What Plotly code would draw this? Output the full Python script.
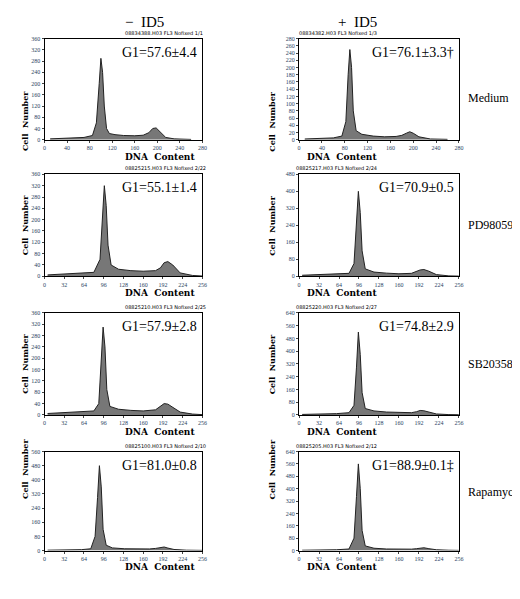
import plotly.graph_objects as go

# Panel data: (DNA content, cell number)
p1_x = [10,40,70,85,92,97,100,103,106,110,115,125,140,160,175,185,192,198,205,215,230,260]
p1_y = [3,5,8,15,60,200,290,240,120,40,22,18,15,14,16,25,40,42,28,8,3,1]
p2_x = [10,40,60,75,82,86,89,92,95,100,110,130,150,170,180,188,194,200,210,230,260]
p2_y = [2,3,5,10,50,180,250,200,80,25,15,10,8,9,12,18,22,18,8,2,1]
p3_x = [5,30,60,80,90,94,97,100,103,108,120,140,160,180,188,194,200,208,220,240,256]
p3_y = [5,8,10,14,60,220,320,250,110,40,25,20,18,20,30,48,52,40,12,3,1]
p4_x = [5,30,60,80,88,92,95,98,101,106,120,140,160,180,188,194,200,208,220,240,256]
p4_y = [5,8,10,14,60,260,400,300,120,35,20,15,12,14,22,30,32,24,8,2,1]
p5_x = [5,30,60,80,88,92,95,98,101,106,120,140,160,180,188,194,200,208,220,240,256]
p5_y = [5,8,10,14,40,200,310,240,90,30,20,16,14,18,30,40,38,28,10,3,1]
p6_x = [5,30,60,80,88,92,95,98,101,106,120,140,160,180,188,194,200,208,220,240,256]
p6_y = [3,5,8,14,60,300,520,380,140,40,25,18,14,14,20,28,26,18,6,2,1]
p7_x = [5,30,60,75,82,86,89,92,95,100,110,130,150,170,180,188,194,200,210,230,256]
p7_y = [2,3,5,10,80,300,480,360,120,30,15,10,8,9,12,18,20,14,6,2,1]
p8_x = [5,30,60,80,88,92,95,98,101,106,120,140,160,180,188,194,200,208,220,240,256]
p8_y = [2,3,5,10,80,350,560,400,130,30,15,10,8,9,12,16,18,12,5,2,1]

g1_labels = ["G1=57.6±4.4","G1=76.1±3.3†","G1=55.1±1.4","G1=70.9±0.5",
             "G1=57.9±2.8","G1=74.8±2.9","G1=81.0±0.8","G1=88.9±0.1‡"]
row_labels = ["Medium","PD98059","SB203580","Rapamycin"]
col_titles = ["−  ID5","+  ID5"]
headers = ["08834388.H03 FL3 Nofixed 1/1","08834382.H03 FL3 Nofixed 1/3",
           "08825215.H03 FL3 Nofixed 2/22","08825217.H03 FL3 Nofixed 2/24",
           "08825210.H03 FL3 Nofixed 2/25","08825220.H03 FL3 Nofixed 2/27",
           "08825100.H03 FL3 Nofixed 2/10","08825205.H03 FL3 Nofixed 2/12"]
y_max = [360,280,360,480,360,640,560,640]
y_dtick = [40,20,40,80,40,80,80,80]
x_max = [280,280,256,256,256,256,256,256]
x_dtick = [40,40,32,32,32,32,32,32]

data = [(p1_x,p1_y),(p2_x,p2_y),(p3_x,p3_y),(p4_x,p4_y),
        (p5_x,p5_y),(p6_x,p6_y),(p7_x,p7_y),(p8_x,p8_y)]

W, H = 520, 599
col_px = [(35,195),(293,455)]
row_px = [(28,130),(165,268),(305,408),(445,545)]

fig = go.Figure()
font = "Liberation Serif"
layout = {}
anns = []
for i,(xs,ys) in enumerate(data):
    r, c = divmod(i,2)
    n = i+1
    xa = "xaxis" if n==1 else f"xaxis{n}"
    ya = "yaxis" if n==1 else f"yaxis{n}"
    xr = "x" if n==1 else f"x{n}"
    yr = "y" if n==1 else f"y{n}"
    fig.add_trace(go.Scatter(x=xs,y=ys,mode="lines",fill="tozeroy",
        line=dict(color="#222",width=1),fillcolor="#777",
        xaxis=xr,yaxis=yr,showlegend=False))
    x0,x1 = col_px[c]; y0,y1 = row_px[r]
    layout[xa] = dict(domain=[x0/W,x1/W],range=[0,x_max[i]],dtick=x_dtick[i],
        anchor=yr,showline=True,linecolor="black",mirror=True,ticks="outside",
        ticklen=2,tickfont=dict(size=6,family=font),showgrid=False,zeroline=False)
    layout[ya] = dict(domain=[1-y1/H,1-y0/H],range=[0,y_max[i]],dtick=y_dtick[i],
        anchor=xr,showline=True,linecolor="black",mirror=True,ticks="outside",
        ticklen=2,tickfont=dict(size=6,family=font),showgrid=False,zeroline=False)
    anns.append(dict(xref="paper",yref="paper",x=(x1-3)/W,y=1-(y0+4)/H,
        text=g1_labels[i],showarrow=False,xanchor="right",yanchor="top",
        font=dict(size=14,family=font,color="black")))
    anns.append(dict(xref="paper",yref="paper",x=(x0+x1)/2/W,y=1-(y0-1)/H,
        text=headers[i],showarrow=False,yanchor="bottom",
        font=dict(size=5,family="DejaVu Sans",color="black")))
    anns.append(dict(xref="paper",yref="paper",x=(x0+x1)/2/W,y=1-(y1+17)/H,
        text="<b>DNA  Content</b>",showarrow=False,yanchor="middle",
        font=dict(size=9,family="DejaVu Serif",color="black")))
    anns.append(dict(xref="paper",yref="paper",x=(x0-27)/W,y=1-(y0+y1)/2/H,
        text="<b>Cell  Number</b>",showarrow=False,textangle=-90,
        font=dict(size=8,family="DejaVu Serif",color="black")))
for r,lab in enumerate(row_labels):
    y0,y1 = row_px[r]
    anns.append(dict(xref="paper",yref="paper",x=462/W,y=1-(y0+y1)/2/H,
        text=lab,showarrow=False,xanchor="left",
        font=dict(size=12,family=font,color="black")))
for c,t in enumerate(col_titles):
    x0,x1 = col_px[c]
    anns.append(dict(xref="paper",yref="paper",x=(x0+x1)/2/W,y=1-1/H,
        text=t,showarrow=False,yanchor="top",
        font=dict(size=15,family=font,color="black")))

fig.update_layout(width=W,height=H,margin=dict(l=0,r=0,t=0,b=0),
    paper_bgcolor="white",plot_bgcolor="white",annotations=anns,**layout)
fig.write_html("out.html")
